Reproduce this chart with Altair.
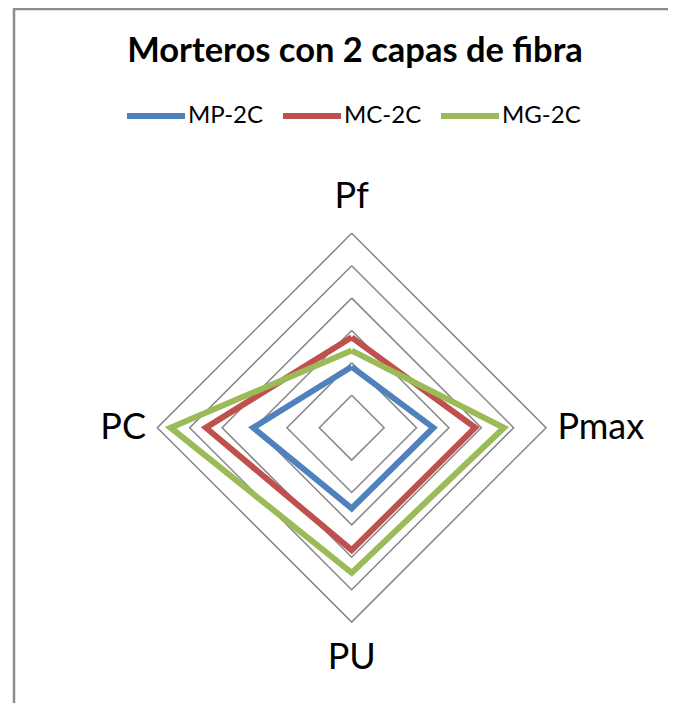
import math
import altair as alt
import pandas as pd

# ---- data ----
categories = ["Pf", "Pmax", "PU", "PC"]
series_names = ["MP-2C", "MC-2C", "MG-2C"]
mp_2c = [1.88, 2.52, 2.49, 3.04]
mc_2c = [2.79, 3.81, 3.78, 4.50]
mg_2c = [2.38, 4.70, 4.48, 5.59]
ring_levels = [1, 2, 3, 4, 5, 6]
title_text = "Morteros con 2 capas de fibra"

# ---- styling ----
colors = ["#4F81BD", "#C0504D", "#9BBB59"]
line_widths = [6, 6, 4]
grid_color = "#868686"
FONT = "Lato"

W, H = 660, 695
CX, CY = 343.7, 419.7      # centre of the radar within the view
K = 32.4                   # px per unit
x_dom = [-CX / K, (W - CX) / K]
y_dom = [-(H - CY) / K, CY / K]
LABEL_R_V = 7.12
LABEL_R_H = 6.35


def angle(i):
    return math.pi / 2 - i * 2 * math.pi / len(categories)


rows = []
for name, vals in zip(series_names, [mp_2c, mc_2c, mg_2c]):
    for j in range(len(categories) + 1):
        i = j % len(categories)
        a = angle(i)
        rows.append(dict(series=name, cat=categories[i], order=j, value=vals[i],
                         x=vals[i] * math.cos(a), y=vals[i] * math.sin(a)))
series_df = pd.DataFrame(rows)

grid_rows = []
for lv in ring_levels:
    for j in range(len(categories) + 1):
        i = j % len(categories)
        a = angle(i)
        grid_rows.append(dict(level=lv, order=j, x=lv * math.cos(a), y=lv * math.sin(a)))
grid_df = pd.DataFrame(grid_rows)

lab_rows = []
for i, c in enumerate(categories):
    a = angle(i)
    vertical = abs(math.sin(a)) > 0.5
    r = LABEL_R_V if vertical else LABEL_R_H
    if vertical:
        al = "center"
    else:
        al = "left" if math.cos(a) > 0 else "right"
    lab_rows.append(dict(cat=c, x=r * math.cos(a), y=r * math.sin(a), al=al))
lab_df = pd.DataFrame(lab_rows)

xs = alt.Scale(domain=x_dom, nice=False, zero=False)
ys = alt.Scale(domain=y_dom, nice=False, zero=False)

grid = alt.Chart(grid_df).mark_line(color=grid_color, strokeWidth=1.5).encode(
    x=alt.X("x:Q", scale=xs, axis=None),
    y=alt.Y("y:Q", scale=ys, axis=None),
    detail="level:N",
    order="order:Q",
)

lines = alt.Chart(series_df).mark_line().encode(
    x=alt.X("x:Q", scale=xs, axis=None),
    y=alt.Y("y:Q", scale=ys, axis=None),
    order="order:Q",
    color=alt.Color(
        "series:N",
        scale=alt.Scale(domain=series_names, range=colors),
        legend=alt.Legend(
            title=None, orient="none", legendX=116, legendY=76,
            direction="horizontal", symbolType="stroke", symbolSize=3364,
            symbolStrokeWidth=6, labelFont=FONT, labelFontSize=24,
            labelColor="black", columnPadding=7, labelOffset=0,
        ),
    ),
    strokeWidth=alt.StrokeWidth(
        "series:N", scale=alt.Scale(domain=series_names, range=line_widths), legend=None
    ),
)

label_layers = []
for al in ["center", "left", "right"]:
    label_layers.append(
        alt.Chart(lab_df).transform_filter(alt.datum.al == al).mark_text(
            font=FONT, fontSize=36, color="black", align=al, baseline="middle"
        ).encode(
            x=alt.X("x:Q", scale=xs, axis=None),
            y=alt.Y("y:Q", scale=ys, axis=None),
            text="cat:N",
        )
    )

title = alt.Chart(pd.DataFrame({"t": [title_text]})).mark_text(
    font=FONT, fontSize=34.5, fontWeight="bold", color="black",
    align="center", baseline="alphabetic"
).encode(text="t:N", x=alt.value(347), y=alt.value(54))

one = pd.DataFrame({"a": [0]})
border = alt.Chart(one).mark_rect(
    fill="transparent", stroke="#8c8c8c", strokeWidth=2.5
).encode(
    x=alt.value(6), x2=alt.value(W + 40), y=alt.value(1), y2=alt.value(H + 40)
)
# white strip over the right edge of the drawing
right_mask = alt.Chart(one).mark_rule(color="white", strokeWidth=4).encode(
    x=alt.value(W - 1), y=alt.value(3), y2=alt.value(H + 5)
)

chart = alt.layer(
    border, grid, lines, *label_layers, title, right_mask
).properties(
    width=W, height=H, padding=0,
    autosize=alt.AutoSizeParams(type="none"),
).configure_view(stroke="transparent", strokeWidth=0)

chart.save("out.html", embed_options={"renderer": "svg", "actions": False})
